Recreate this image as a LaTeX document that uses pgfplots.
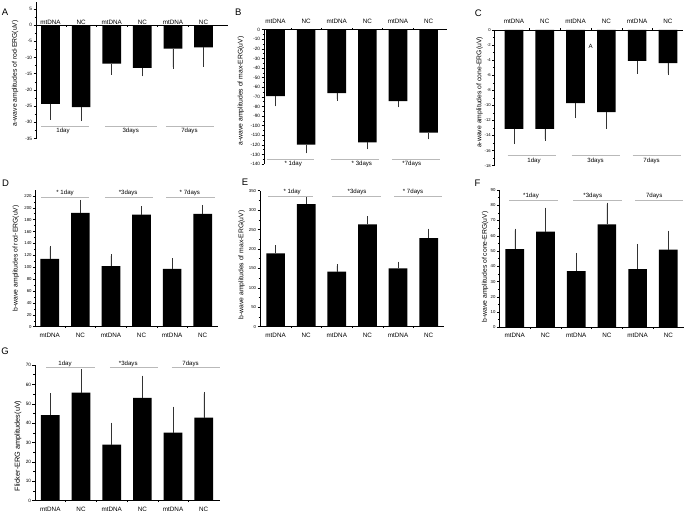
\documentclass[border=0pt]{standalone}
\usepackage{fontspec}
\setmainfont{Liberation Sans}
\usepackage{pgfplots}
\pgfplotsset{compat=1.18}
\usepackage{pgfplotstable}

\pgfplotstableread{
x y e
1 -24.3 4.3
2 -25.3 3.8
3 -11.9 2.9
4 -13.2 2.1
5 -7.25 5.65
6 -6.9 5.5
}\dataA
\pgfplotstableread{
x y e
1 -69.2 9.0
2 -119.7 7.5
3 -66.1 6.2
4 -117.4 5.6
5 -74.4 4.8
6 -107.4 5.2
}\dataB
\pgfplotstableread{
x y e
1 -13.1 1.82
2 -13.1 1.37
3 -9.7 1.77
4 -10.9 1.95
5 -4.1 1.46
6 -4.4 1.37
}\dataC
\pgfplotstableread{
x y e
1 114.2 19.0
2 191.4 19.1
3 101.9 16.8
4 188.6 10.7
5 97.4 14.5
6 189.8 12.3
}\dataD
\pgfplotstableread{
x y e
1 188.7 16.3
2 315.6 14.4
3 141.5 14.5
4 263.3 17.1
5 150.0 13.0
6 228.0 19.8
}\dataE
\pgfplotstableread{
x y e
1 51.3 12.2
2 62.7 14.6
3 36.9 10.7
4 67.5 13.1
5 38.2 15.3
6 50.9 11.3
}\dataF
\pgfplotstableread{
x y e
1 44.2 10.4
2 55.8 11.2
3 28.9 10.5
4 53.0 10.7
5 35.1 12.6
6 42.9 12.3
}\dataG

\tikzset{
  grp/.style={draw=gray!55, line width=0.8pt},
  grplab/.style={font=\fontsize{6.1}{7}\selectfont, inner sep=0pt},
  catlab/.style={font=\fontsize{6.3}{7}\selectfont, inner sep=0pt},
  letter/.style={font=\fontsize{9.5}{10}\selectfont, inner sep=0pt},
}
\pgfplotsset{
  panel/.style={
    scale only axis, anchor=south west, clip=false,
    enlargelimits=false,
    axis y line*=left,
    axis line style={black, line width=0.5pt, -},
    ybar, bar width=18.7pt,
    tick align=outside,
    major tick length=2.5pt, minor tick length=1.5pt,
    tick style={black, line width=0.4pt},
    major x tick style={draw=none},
    minor y tick num=1,
    xtick={1,2,3,4,5,6},
    minor xtick={1.5,2.5,3.5,4.5,5.5},
    yticklabel style={font=\fontsize{4.7}{5}\selectfont, inner sep=1.2pt},
    /pgf/number format/assume math mode=true,
    xticklabel style={font=\fontsize{6.3}{7}\selectfont},
    xticklabels={mtDNA,NC,mtDNA,NC,mtDNA,NC},
    ylabel style={font=\fontsize{6.8}{8}\selectfont, anchor=center},
  },
  bars/.style={fill=black, draw=none,
    error bars/y explicit,
    error bars/error bar style={black!80, line width=0.45pt},
    error bars/error mark options={black!80, mark size=1.7pt, line width=0.45pt}},
}

\begin{document}
\begin{tikzpicture}
\useasboundingbox (0,0) rectangle (685pt,511pt);

% ---------------- A ----------------
\begin{axis}[panel, at={(36pt,372.4pt)}, width=192pt, height=136.3pt,
  xmin=0.526, xmax=6.8, ymin=-35, ymax=7,
  axis x line*=middle, xticklabels={,,,,,},
  ytick={-35,-30,...,5},
  ylabel={a-wave amplitudes of rod-ERG(uV)},
  ylabel style={at={(axis description cs:-0.109,0.48)}}]
\addplot[bars, error bars/y dir=minus] table[x=x, y=y, y error=e]{\dataA};
\node[catlab, anchor=base] at (axis cs:1,0.3) {mtDNA};
\node[catlab, anchor=base] at (axis cs:2,0.3) {NC};
\node[catlab, anchor=base] at (axis cs:3,0.3) {mtDNA};
\node[catlab, anchor=base] at (axis cs:4,0.3) {NC};
\node[catlab, anchor=base] at (axis cs:5,0.3) {mtDNA};
\node[catlab, anchor=base] at (axis cs:6,0.3) {NC};
\draw[grp] (axis cs:0.69,-31.1) -- (axis cs:2.26,-31.1);
\draw[grp] (axis cs:2.78,-31.1) -- (axis cs:4.48,-31.1);
\draw[grp] (axis cs:4.77,-31.1) -- (axis cs:6.34,-31.1);
\node[grplab] at (axis cs:1.41,-32.7) {1day};
\node[grplab] at (axis cs:3.62,-32.7) {3days};
\node[grplab] at (axis cs:5.54,-32.7) {7days};
\end{axis}

% ---------------- B ----------------
\begin{axis}[panel, at={(264pt,347pt)}, width=183pt, height=134.4pt,
  xmin=0.624, xmax=6.6, ymin=-140, ymax=0,
  axis x line*=top,
  ytick={-140,-130,...,0},
  ylabel={a-wave amplitudes of max-ERG(uV)},
  ylabel style={at={(axis description cs:-0.126,0.543)}}]
\addplot[bars, error bars/y dir=minus] table[x=x, y=y, y error=e]{\dataB};
\draw[grp] (axis cs:0.712,-135.1) -- (axis cs:2.268,-135.1);
\draw[grp] (axis cs:2.81,-135.1) -- (axis cs:4.38,-135.1);
\draw[grp] (axis cs:4.80,-135.1) -- (axis cs:6.38,-135.1);
\node[grplab] at (axis cs:1.58,-140.3) {* 1day};
\node[grplab] at (axis cs:3.82,-140.3) {* 3days};
\node[grplab] at (axis cs:5.45,-140.3) {*7days};
\end{axis}

% ---------------- C ----------------
\begin{axis}[panel, at={(494.3pt,345.3pt)}, width=188.7pt, height=135.7pt,
  xmin=0.36, xmax=6.49, ymin=-18, ymax=0,
  axis x line*=top,
  ytick={-18,-16,...,0},
  yticklabel style={font=\fontsize{4.2}{5}\selectfont, inner sep=0.8pt},
  ylabel={a-wave amplitudes of cone-ERG(uV)},
  ylabel style={at={(axis description cs:-0.078,0.54)}}]
\addplot[bars, error bars/y dir=minus] table[x=x, y=y, y error=e]{\dataC};
\draw[grp] (axis cs:0.795,-16.59) -- (axis cs:2.354,-16.59);
\draw[grp] (axis cs:2.87,-16.59) -- (axis cs:4.44,-16.59);
\draw[grp] (axis cs:4.85,-16.59) -- (axis cs:6.44,-16.59);
\node[grplab] at (axis cs:1.65,-17.43) {1day};
\node[grplab] at (axis cs:3.65,-17.43) {3days};
\node[grplab] at (axis cs:5.47,-17.43) {7days};
\node[grplab] at (axis cs:3.49,-2.22) {A};
\end{axis}

% ---------------- D ----------------
\begin{axis}[panel, at={(35.5pt,184.3pt)}, width=182.5pt, height=136.8pt,
  xmin=0.533, xmax=6.5, ymin=0, ymax=230,
  axis x line*=bottom,
  ytick={0,20,...,220},
  yticklabel style={font=\fontsize{4.3}{5}\selectfont},
  ylabel={b-wave amplitudes of rod-ERG(uV)},
  ylabel style={at={(axis description cs:-0.107,0.5)}}]
\addplot[bars, error bars/y dir=plus] table[x=x, y=y, y error=e]{\dataD};
\draw[grp] (axis cs:0.71,217.5) -- (axis cs:2.28,217.5);
\draw[grp] (axis cs:2.80,217.5) -- (axis cs:4.37,217.5);
\draw[grp] (axis cs:4.80,217.5) -- (axis cs:6.40,217.5);
\node[grplab] at (axis cs:1.5,224.2) {* 1day};
\node[grplab] at (axis cs:3.56,224.2) {*3days};
\node[grplab] at (axis cs:5.58,224.2) {* 7days};
\end{axis}

% ---------------- E ----------------
\begin{axis}[panel, at={(260pt,184.3pt)}, width=184pt, height=136pt,
  xmin=0.49, xmax=6.5, ymin=0, ymax=350,
  axis x line*=bottom,
  ytick={0,50,...,350},
  yticklabel style={font=\fontsize{4.3}{5}\selectfont},
  ylabel={b-wave amplitudes of max-ERG(uV)},
  ylabel style={at={(axis description cs:-0.1,0.454)}}]
\addplot[bars, error bars/y dir=plus] table[x=x, y=y, y error=e]{\dataE};
\draw[grp] (axis cs:0.755,334.4) -- (axis cs:2.225,334.4);
\draw[grp] (axis cs:2.85,334.4) -- (axis cs:4.45,334.4);
\draw[grp] (axis cs:4.87,334.4) -- (axis cs:6.44,334.4);
\node[grplab] at (axis cs:1.54,347.3) {* 1day};
\node[grplab] at (axis cs:3.66,347.3) {*3days};
\node[grplab] at (axis cs:5.49,347.3) {* 7days};
\end{axis}

% ---------------- F ----------------
\begin{axis}[panel, at={(499.3pt,183.7pt)}, width=184.7pt, height=137.3pt,
  xmin=0.498, xmax=6.51, ymin=0, ymax=90,
  axis x line*=bottom,
  ytick={0,10,...,90},
  yticklabel style={font=\fontsize{4.3}{5}\selectfont},
  ylabel={b-wave amplitudes of cone-ERG(uV)},
  ylabel style={at={(axis description cs:-0.077,0.44)}}]
\addplot[bars, error bars/y dir=plus] table[x=x, y=y, y error=e]{\dataF};
\draw[grp] (axis cs:0.82,83.4) -- (axis cs:2.40,83.4);
\draw[grp] (axis cs:2.91,83.4) -- (axis cs:4.49,83.4);
\draw[grp] (axis cs:4.92,83.4) -- (axis cs:6.47,83.4);
\node[grplab] at (axis cs:1.53,86.2) {*1day};
\node[grplab] at (axis cs:3.54,86.2) {*3days};
\node[grplab] at (axis cs:5.54,86.2) {7days};
\end{axis}

% ---------------- G ----------------
\begin{axis}[panel, at={(35pt,10.3pt)}, width=185pt, height=135.7pt,
  xmin=0.5, xmax=6.53, ymin=0, ymax=70,
  axis x line*=bottom,
  ytick={0,10,...,70},
  ylabel={Flicker-ERG amplitudes(uV)},
  ylabel style={at={(axis description cs:-0.092,0.403)}, font=\fontsize{7.3}{8}\selectfont}]
\addplot[bars, error bars/y dir=plus] table[x=x, y=y, y error=e]{\dataG};
\draw[grp] (axis cs:0.86,68.8) -- (axis cs:2.46,68.8);
\draw[grp] (axis cs:2.94,68.8) -- (axis cs:4.52,68.8);
\draw[grp] (axis cs:4.95,68.8) -- (axis cs:6.53,68.8);
\node[grplab] at (axis cs:1.48,70.8) {1day};
\node[grplab] at (axis cs:3.54,70.8) {*3days};
\node[grplab] at (axis cs:5.57,70.8) {7days};
\end{axis}

% panel letters
\node[letter] at (5pt,498.3pt) {A};
\node[letter] at (238.3pt,498.3pt) {B};
\node[letter] at (478.3pt,497.7pt) {C};
\node[letter] at (5.5pt,327.7pt) {D};
\node[letter] at (245pt,329pt) {E};
\node[letter] at (477.5pt,327.7pt) {F};
\node[letter] at (5pt,159.7pt) {G};
\end{tikzpicture}
\end{document}
